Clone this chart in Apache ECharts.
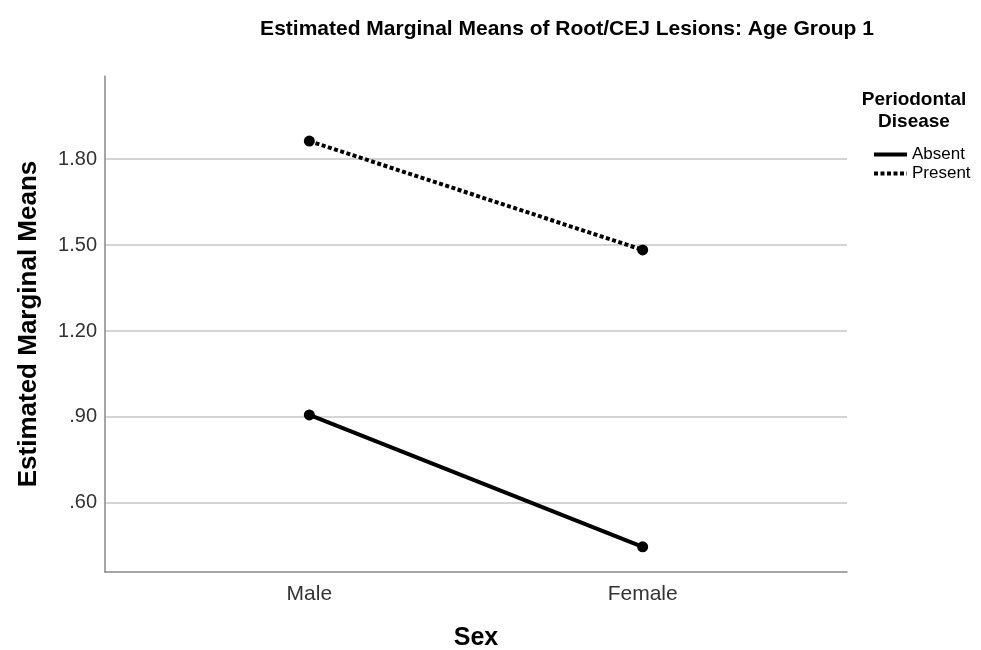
<!DOCTYPE html>
<html>
<head>
    <meta charset="utf-8">
    <title>Estimated Marginal Means</title>
    <script src="https://cdn.jsdelivr.net/npm/echarts@6/dist/echarts.min.js"></script>
    <style>
        body { margin: 0; background: #fff; }
    </style>
</head>
<body>
<div id="line-chart" style="width: 981px; height: 650px;"></div>
<script>
    // 数据
    var sexLabels = ['Male', 'Female'];
    var groupNames = ['Absent', 'Present'];
    var absentValues = [0.907, 0.447];
    var presentValues = [1.863, 1.483];
    var yTicks = [0.6, 0.9, 1.2, 1.5, 1.8];

    var font = '"Liberation Sans", Arial, sans-serif';

    function toPoints(values) {
        return values.map(function (v, i) { return [i, v]; });
    }

    var chart = echarts.init(document.getElementById('line-chart'));

    chart.setOption({
        backgroundColor: '#fff',
        animation: false,
        title: [{
            text: 'Estimated Marginal Means of Root/CEJ Lesions: Age Group 1',
            left: 562, top: 14, textAlign: 'center',
            textStyle: { fontFamily: font, fontSize: 21, fontWeight: 'bold', color: '#000' }
        }, {
            text: 'Periodontal\nDisease',
            left: 909, top: 84, textAlign: 'center',
            textStyle: { fontFamily: font, fontSize: 19, fontWeight: 'bold', color: '#000', lineHeight: 22 }
        }],
        legend: {
            data: groupNames,
            orient: 'vertical',
            left: 867, top: 141,
            itemWidth: 33, itemHeight: 12, itemGap: 2,
            itemStyle: { opacity: 0 },
            lineStyle: { width: 4 },
            textStyle: { fontFamily: font, fontSize: 17, color: '#000' }
        },
        grid: { left: 105, right: 134, top: 76, bottom: 78, outerBoundsMode: 'none', containLabel: false },
        xAxis: {
            type: 'value',
            min: -0.613, max: 1.613,
            name: 'Sex', nameLocation: 'middle', nameGap: 54,
            nameTextStyle: { fontFamily: font, fontSize: 25, fontWeight: 'bold', color: '#000' },
            axisLine: { onZero: false, lineStyle: { color: '#888', width: 1.5 } },
            axisTick: { show: false, customValues: [0, 1] },
            splitLine: { show: false },
            axisLabel: {
                customValues: [0, 1], margin: 12,
                fontFamily: font, fontSize: 21, color: '#333',
                formatter: function (v) { return sexLabels[Math.round(v)]; }
            }
        },
        yAxis: {
            type: 'value',
            min: 0.359, max: 2.09,
            name: 'Estimated Marginal Means', nameLocation: 'middle', nameGap: 63,
            nameTextStyle: { fontFamily: font, fontSize: 26, fontWeight: 'bold', color: '#000' },
            axisLine: { show: true, onZero: false, lineStyle: { color: '#888', width: 1.5 } },
            axisTick: { show: false, customValues: yTicks },
            splitLine: { show: true, customValues: yTicks, lineStyle: { color: '#d4d4d4', width: 2 } },
            axisLabel: {
                customValues: yTicks, margin: 8,
                fontFamily: font, fontSize: 20, color: '#333',
                formatter: function (v) { return v.toFixed(2).replace(/^0/, ''); }
            }
        },
        series: [{
            name: groupNames[0],
            type: 'line',
            data: toPoints(absentValues),
            symbol: 'circle', symbolSize: 11,
            itemStyle: { color: '#000' },
            lineStyle: { color: '#000', width: 4, type: 'solid' }
        }, {
            name: groupNames[1],
            type: 'line',
            data: toPoints(presentValues),
            symbol: 'circle', symbolSize: 11,
            itemStyle: { color: '#000' },
            lineStyle: { color: '#000', width: 4, type: [4, 2.5] }
        }]
    });
</script>
</body>
</html>
